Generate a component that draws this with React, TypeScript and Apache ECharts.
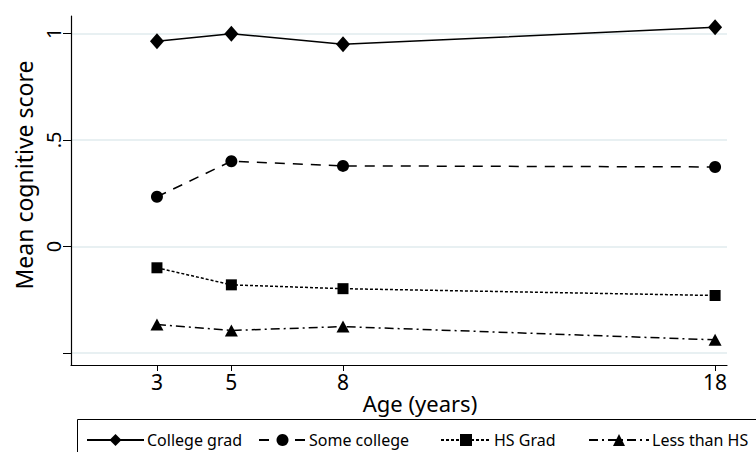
import React, { useEffect, useRef } from "react";
import * as echarts from "echarts";

const ages = [3, 5, 8, 18];
const seriesNames = ["College grad", "Some college", "HS Grad", "Less than HS"];
const collegeGrad = [0.962, 0.998, 0.948, 1.028];
const someCollege = [0.233, 0.4, 0.378, 0.373];
const hsGrad = [-0.1, -0.18, -0.198, -0.23];
const lessThanHS = [-0.366, -0.394, -0.376, -0.438];
const yTicks = [1, 0.5, 0, -0.5];
const yLabels = [1, 0.5, 0];
const xTicks = [3, 5, 8, 18];

const FONT = "Noto Sans";

export default function App() {
  const ref = useRef<HTMLDivElement>(null);
  useEffect(() => {
    if (!ref.current) return;
    const chart = echarts.init(ref.current, null, { renderer: "svg" });
    const values = [collegeGrad, someCollege, hsGrad, lessThanHS];
    const symbols = ["diamond", "circle", "rect", "triangle"];
    const symbolSizes: any[] = [[14, 16], 12, 11, [13, 12]];
    const dashes: any[] = ["solid", [10, 8], [3, 2], [9, 4, 2, 4]];
    const series = seriesNames.map((name, i) => ({
      name,
      type: "line",
      data: ages.map((a, j) => [a, values[i][j]]),
      symbol: symbols[i],
      symbolSize: symbolSizes[i],
      showSymbol: true,
      itemStyle: { color: "#000" },
      lineStyle: { color: "#000", width: 1.5, type: dashes[i] },
    }));
    const legendLeft = [86, 258, 440, 588];
    const legendWidth = [57, 47, 50, 60];
    const legends = seriesNames.map((name, i) => ({
      data: [name],
      left: legendLeft[i],
      top: 432,
      padding: 0,
      itemWidth: legendWidth[i],
      itemHeight: 15,
      itemGap: 0,
      textStyle: {
        fontFamily: FONT,
        fontSize: 16,
        lineHeight: 16,
        color: "#000",
        padding: [0, 0, 0, -2],
      },
      selectedMode: false,
    }));
    chart.setOption({
      animation: false,
      backgroundColor: "#fff",
      grid: { left: 71, right: 29, top: 16, bottom: 87 },
      xAxis: {
        type: "value",
        min: 0.69,
        max: 18.32,
        axisLine: { onZero: false, lineStyle: { color: "#000", width: 1.2 } },
        axisTick: { customValues: xTicks, length: 6, lineStyle: { color: "#000" } },
        axisLabel: {
          customValues: xTicks,
          color: "#000",
          fontFamily: FONT,
          fontSize: 21,
          margin: 6,
        },
        splitLine: { show: false },
      },
      yAxis: {
        type: "value",
        min: -0.556,
        max: 1.081,
        axisLine: { show: true, onZero: false, lineStyle: { color: "#000", width: 1.2 } },
        axisTick: { show: true, customValues: yTicks, length: 8, lineStyle: { color: "#000" } },
        axisLabel: {
          customValues: yLabels,
          rotate: 90,
          color: "#000",
          fontFamily: FONT,
          fontSize: 20,
          margin: 8,
          formatter: (v: number) => (v === 0.5 ? ".5" : String(v)),
        },
        splitLine: { show: true, lineStyle: { color: "#e8f0f2", width: 2 } },
      },
      legend: legends,
      graphic: [
        {
          type: "text",
          x: 24,
          y: 175,
          rotation: Math.PI / 2,
          style: {
            text: "Mean cognitive score",
            fontFamily: FONT,
            fontSize: 23,
            fill: "#000",
            align: "center",
            verticalAlign: "middle",
          },
        },
        {
          type: "text",
          x: 420,
          y: 403,
          style: {
            text: "Age (years)",
            fontFamily: FONT,
            fontSize: 22,
            fill: "#000",
            align: "center",
            verticalAlign: "middle",
          },
        },
        {
          type: "rect",
          shape: { x: 77.5, y: 419.5, width: 720, height: 60 },
          style: { fill: "none", stroke: "#000", lineWidth: 1 },
        },
      ],
      series,
    });
    return () => chart.dispose();
  }, []);
  return <div ref={ref} style={{ width: 756, height: 452, position: "absolute", left: 0, top: 0 }} />;
}
